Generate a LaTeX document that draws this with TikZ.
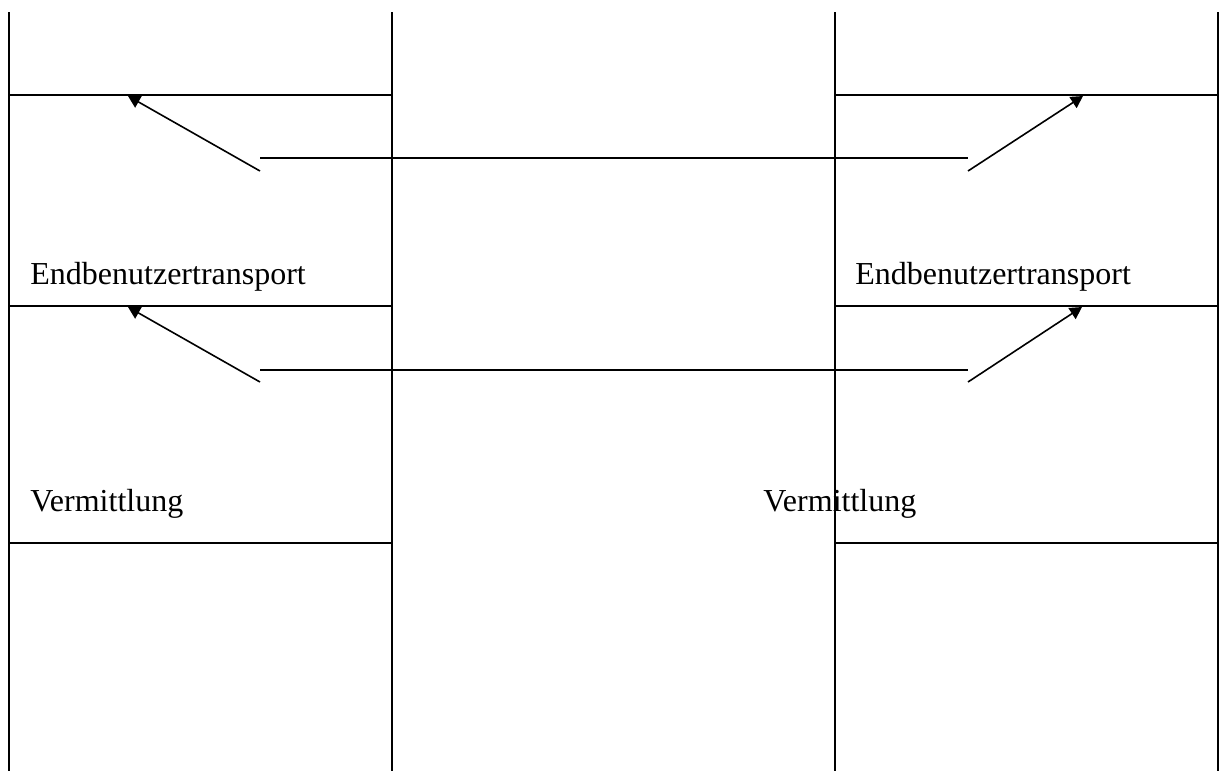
\documentclass[tikz,border=0pt]{standalone}
\usepackage{fontspec}
\setmainfont{Liberation Serif}
\usetikzlibrary{arrows, arrows.meta, shapes, positioning}

\tikzset{
  layer/.style={anchor=base west, inner sep=0pt, font=\fontsize{16}{19}\selectfont},
  wall/.style={line width=1.1pt},
  flow/.style={line width=0.8pt, -{Triangle[length=6pt, width=6.5pt]}},
}

\begin{document}
\begin{tikzpicture}[x=0.5pt, y=-0.5pt]
          \useasboundingbox (0,0) rectangle (1219,771);

          % Nodes
          \node[layer] (et1) at (30, 284) {Endbenutzertransport};
          \node[layer] (et2) at (855, 284) {Endbenutzertransport};
          \node[layer] (vm1) at (30, 511) {Vermittlung};
          \node[layer] (vm2) at (763, 511) {Vermittlung};

          \coordinate (a1) at (260, 158);
          \coordinate (a2) at (968, 158);
          \coordinate (b1) at (260, 370);
          \coordinate (b2) at (968, 370);
          \coordinate (a1s) at (260, 171);
          \coordinate (a2s) at (968, 171);
          \coordinate (b1s) at (260, 382);
          \coordinate (b2s) at (968, 382);
          \coordinate (a1t) at (128, 96);
          \coordinate (a2t) at (1083, 96);
          \coordinate (b1t) at (128, 307);
          \coordinate (b2t) at (1082, 307);

          % Stacks
          \foreach \x in {9, 392, 835, 1218}
            \draw[wall] (\x, 12) -- (\x, 771);
          \foreach \y in {95, 306, 543} {
            \draw[wall] (9, \y) -- (392, \y);
            \draw[wall] (835, \y) -- (1218, \y);
          }

          % Edges
          \draw[wall] (a1) -- (a2);
          \draw[wall] (b1) -- (b2);
          \draw[flow] (a1s) -- (a1t);
          \draw[flow] (a2s) -- (a2t);
          \draw[flow] (b1s) -- (b1t);
          \draw[flow] (b2s) -- (b2t);

        \end{tikzpicture}
\end{document}
